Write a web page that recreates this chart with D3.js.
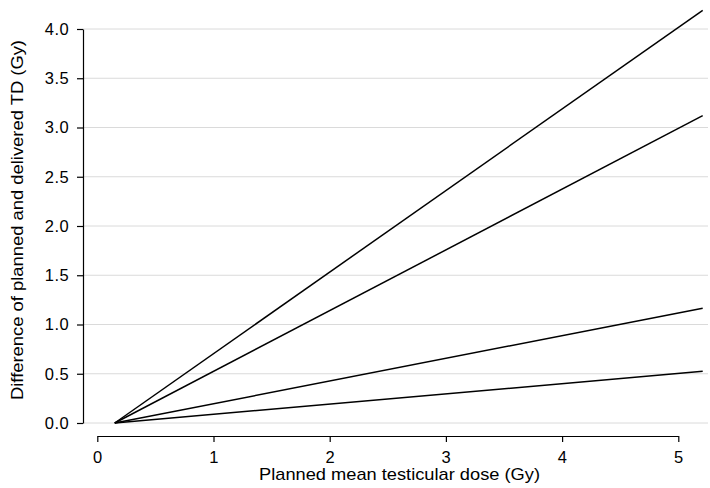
<!DOCTYPE html>
<html>
<head>
<meta charset="utf-8">
<script src="https://cdn.jsdelivr.net/npm/d3@7"></script>
<style>
  html, body { margin: 0; padding: 0; background: #fff; }
  svg { display: block; font-family: "Liberation Sans", Arial, sans-serif; }
</style>
</head>
<body>
<svg id="chart" width="710" height="488"></svg>
<script>
// Planned mean testicular dose (Gy) at the start and end of each fitted line
const doses = [0.15, 5.21];
// Difference of planned and delivered TD (Gy) for each series
const seriesA = [0, 4.19];
const seriesB = [0, 3.12];
const seriesC = [0, 1.165];
const seriesD = [0, 0.525];
const allSeries = [seriesA, seriesB, seriesC, seriesD];

const xTicks = [0, 1, 2, 3, 4, 5];
const yTicks = [0, 0.5, 1, 1.5, 2, 2.5, 3, 3.5, 4];

const svg = d3.select("#chart");

const x = d3.scaleLinear().domain([0, 5]).range([97.3, 678.3]);
const y = d3.scaleLinear().domain([0, 4]).range([423, 29]);

const yAxisX = 83;
const xAxisY = 436;
const plotRight = 708;

// horizontal gridlines
svg.append("g")
  .selectAll("line")
  .data(yTicks)
  .join("line")
  .attr("x1", yAxisX)
  .attr("x2", plotRight)
  .attr("y1", d => y(d))
  .attr("y2", d => y(d))
  .attr("stroke", "#dadada")
  .attr("stroke-width", 1);

// y axis
const yAxis = d3.axisLeft(y)
  .tickValues(yTicks)
  .tickFormat(d3.format(".1f"))
  .tickSize(6)
  .tickSizeOuter(0)
  .tickPadding(8);
const gy = svg.append("g")
  .attr("transform", `translate(${yAxisX},0)`)
  .call(yAxis);

// x axis
const xAxis = d3.axisBottom(x)
  .tickValues(xTicks)
  .tickFormat(d3.format("d"))
  .tickSize(6)
  .tickSizeOuter(0)
  .tickPadding(9.5);
const gx = svg.append("g")
  .attr("transform", `translate(0,${xAxisY})`)
  .call(xAxis);

[gx, gy].forEach(g => {
  g.selectAll("path.domain").attr("stroke", "#000").attr("stroke-width", 1.2);
  g.selectAll(".tick line").attr("stroke", "#000").attr("stroke-width", 1.2);
  g.selectAll(".tick text")
    .attr("fill", "#000")
    .style("font-size", "16.5px")
    .style("letter-spacing", "0.4px")
    .style("font-family", "'Liberation Sans', Arial, sans-serif");
});

// fitted lines
const line = d3.line()
  .x((d, i) => x(doses[i]))
  .y(d => y(d));

svg.append("g")
  .selectAll("path")
  .data(allSeries)
  .join("path")
  .attr("d", line)
  .attr("fill", "none")
  .attr("stroke", "#000")
  .attr("stroke-width", 1.5);

// axis titles
svg.append("text")
  .attr("x", 399.5)
  .attr("y", 480)
  .attr("text-anchor", "middle")
  .attr("textLength", 281)
  .attr("lengthAdjust", "spacingAndGlyphs")
  .style("font-size", "17px")
  .attr("fill", "#000")
  .text("Planned mean testicular dose (Gy)");

svg.append("text")
  .attr("transform", "translate(23,220) rotate(-90)")
  .attr("text-anchor", "middle")
  .attr("textLength", 360)
  .attr("lengthAdjust", "spacingAndGlyphs")
  .style("font-size", "17px")
  .attr("fill", "#000")
  .text("Difference of planned and delivered TD (Gy)");
</script>
</body>
</html>
